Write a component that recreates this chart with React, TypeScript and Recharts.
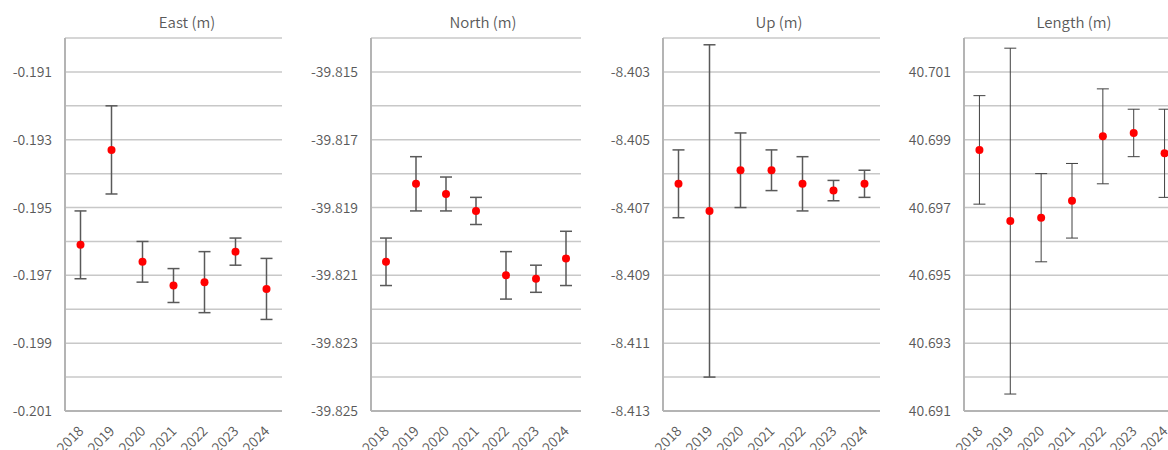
import React from 'react';
import { ComposedChart, Line, ErrorBar, XAxis, YAxis, CartesianGrid } from 'recharts';

const years = [2018, 2019, 2020, 2021, 2022, 2023, 2024];

const eastValues = [-0.1961, -0.1933, -0.1966, -0.1973, -0.1972, -0.1963, -0.1974];
const eastErrors = [0.001, 0.0013, 0.0006, 0.0005, 0.0009, 0.0004, 0.0009];
const eastTicks = [-0.201, -0.2, -0.199, -0.198, -0.197, -0.196, -0.195, -0.194, -0.193, -0.192, -0.191, -0.19];
const eastLabels = [-0.201, -0.199, -0.197, -0.195, -0.193, -0.191];

const northValues = [-39.8206, -39.8183, -39.8186, -39.8191, -39.821, -39.8211, -39.8205];
const northErrors = [0.0007, 0.0008, 0.0005, 0.0004, 0.0007, 0.0004, 0.0008];
const northTicks = [-39.825, -39.824, -39.823, -39.822, -39.821, -39.82, -39.819, -39.818, -39.817, -39.816, -39.815, -39.814];
const northLabels = [-39.825, -39.823, -39.821, -39.819, -39.817, -39.815];

const upValues = [-8.4063, -8.4071, -8.4059, -8.4059, -8.4063, -8.4065, -8.4063];
const upErrors = [0.001, 0.0049, 0.0011, 0.0006, 0.0008, 0.0003, 0.0004];
const upTicks = [-8.413, -8.412, -8.411, -8.41, -8.409, -8.408, -8.407, -8.406, -8.405, -8.404, -8.403, -8.402];
const upLabels = [-8.413, -8.411, -8.409, -8.407, -8.405, -8.403];

const lengthValues = [40.6987, 40.6966, 40.6967, 40.6972, 40.6991, 40.6992, 40.6986];
const lengthErrors = [0.0016, 0.0051, 0.0013, 0.0011, 0.0014, 0.0007, 0.0013];
const lengthTicks = [40.691, 40.692, 40.693, 40.694, 40.695, 40.696, 40.697, 40.698, 40.699, 40.7, 40.701, 40.702];
const lengthLabels = [40.691, 40.693, 40.695, 40.697, 40.699, 40.701];

const FONT = '"Noto Sans CJK JP", "Noto Sans", sans-serif';
const TEXT = '#595959';
const WEIGHT = 350;

const YearTick = ({ x, y, payload }: any) => (
  <text
    x={x + 4}
    y={y + 13}
    transform={`rotate(-45 ${x + 4} ${y + 13})`}
    textAnchor="end"
    fill={TEXT}
    fontSize={14}
    fontWeight={WEIGHT}
    fontFamily={FONT}
  >
    {payload.value}
  </text>
);

interface PanelProps {
  title: string;
  left: number;
  axisWidth: number;
  plotWidth: number;
  titleX: number;
  values: number[];
  errors: number[];
  ticks: number[];
  labels: number[];
  barWidth: number;
  barColor: string;
}

const Panel = ({ title, left, axisWidth, plotWidth, titleX, values, errors, ticks, labels, barWidth, barColor }: PanelProps) => {
  const data = years.map((year, i) => ({ year, v: values[i], err: errors[i] }));
  const shown = labels.map((l) => l.toFixed(3));
  return (
    <>
      <div
        style={{
          position: 'absolute',
          left: titleX - 100,
          top: 12,
          width: 200,
          textAlign: 'center',
          fontFamily: FONT,
          fontSize: 15,
          fontWeight: WEIGHT,
          lineHeight: '20px',
          color: TEXT,
        }}
      >
        {title}
      </div>
      <div style={{ position: 'absolute', left, top: 0 }}>
        <ComposedChart
          width={axisWidth + plotWidth}
          height={450}
          data={data}
          margin={{ top: 38, right: 0, bottom: 0, left: 0 }}
        >
          <CartesianGrid vertical={false} stroke="#c8c8c8" strokeWidth={1.5} />
          <XAxis
            dataKey="year"
            type="number"
            domain={[2017.5, 2024.5]}
            ticks={years}
            height={39}
            tickLine={false}
            axisLine={{ stroke: '#b4b4b4', strokeWidth: 2 }}
            tick={<YearTick />}
            interval={0}
          />
          <YAxis
            type="number"
            domain={[ticks[0], ticks[ticks.length - 1]]}
            ticks={ticks}
            width={axisWidth}
            interval={0}
            allowDataOverflow
            tickLine={false}
            tickMargin={7}
            axisLine={{ stroke: '#b4b4b4', strokeWidth: 2 }}
            tick={{ fill: TEXT, fontSize: 14, fontWeight: WEIGHT, fontFamily: FONT }}
            tickFormatter={(t: number) => (shown.includes(t.toFixed(3)) ? t.toFixed(3) : '')}
          />
          <Line
            dataKey="v"
            stroke="none"
            isAnimationActive={false}
            dot={{ r: 4, fill: '#ff0000', stroke: 'none' }}
            activeDot={false}
          >
            <ErrorBar dataKey="err" direction="y" width={6} stroke={barColor} strokeWidth={barWidth} />
          </Line>
        </ComposedChart>
      </div>
    </>
  );
};

export default function App() {
  return (
    <div style={{ position: 'absolute', left: 0, top: 0, width: 1168, height: 450, overflow: 'hidden', background: '#fff' }}>
      <Panel title="East (m)" left={0} axisWidth={65} plotWidth={217} titleX={187}
        values={eastValues} errors={eastErrors} ticks={eastTicks} labels={eastLabels} barWidth={1.5} barColor="#595959" />
      <Panel title="North (m)" left={290} axisWidth={81} plotWidth={210} titleX={483}
        values={northValues} errors={northErrors} ticks={northTicks} labels={northLabels} barWidth={1.5} barColor="#595959" />
      <Panel title="Up (m)" left={580} axisWidth={83} plotWidth={217} titleX={779}
        values={upValues} errors={upErrors} ticks={upTicks} labels={upLabels} barWidth={1.5} barColor="#595959" />
      <Panel title="Length (m)" left={870} axisWidth={94} plotWidth={216} titleX={1074}
        values={lengthValues} errors={lengthErrors} ticks={lengthTicks} labels={lengthLabels} barWidth={1} barColor="#404040" />
    </div>
  );
}
